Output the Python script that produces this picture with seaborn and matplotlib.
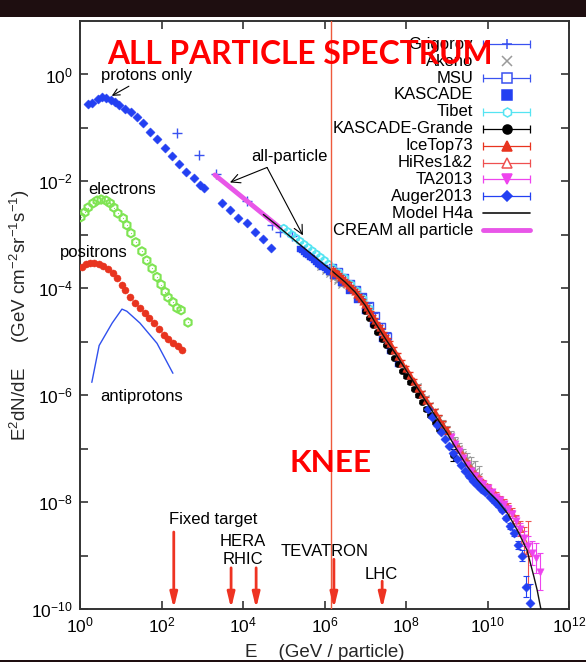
import numpy as np
import matplotlib
matplotlib.use("Agg")
import matplotlib.pyplot as plt
import matplotlib.font_manager as fm
import seaborn as sns
from matplotlib.patches import Rectangle
from matplotlib.ticker import FixedLocator, FixedFormatter, NullFormatter

# ---------------- data: log10(E / GeV), log10(E^2 dN/dE) ----------------
proton_logE = [0.20, 0.30, 0.45, 0.55, 0.65, 0.75, 0.85, 0.95, 1.10, 1.25, 1.40, 1.55, 1.72,
               1.90, 2.08, 2.25, 2.42, 2.60, 2.80, 2.95, 3.05, 3.48, 3.68, 3.88, 4.10, 4.30, 4.49, 4.69]
proton_logF = [-0.56, -0.54, -0.45, -0.43, -0.44, -0.47, -0.51, -0.57, -0.64, -0.71, -0.80, -0.91, -1.07,
               -1.21, -1.37, -1.53, -1.67, -1.83, -1.94, -2.07, -2.13, -2.41, -2.54, -2.69, -2.78, -2.95, -3.08, -3.25]

electron_logE = [0.02, 0.12, 0.20, 0.32, 0.42, 0.52, 0.64, 0.74, 0.83, 0.93, 1.06, 1.15, 1.25,
                 1.37, 1.52, 1.64, 1.77, 1.89, 1.99, 2.09, 2.16, 2.28, 2.38, 2.48, 2.65]
electron_logF = [-2.67, -2.58, -2.49, -2.41, -2.36, -2.34, -2.36, -2.41, -2.49, -2.60, -2.69, -2.82, -2.97,
                 -3.14, -3.31, -3.48, -3.63, -3.79, -3.93, -4.07, -4.17, -4.26, -4.37, -4.41, -4.64]

positron_logE = [0.05, 0.15, 0.25, 0.34, 0.47, 0.56, 0.69, 0.81, 0.91, 1.03, 1.10, 1.23, 1.35,
                 1.47, 1.60, 1.69, 1.82, 1.94, 2.06, 2.16, 2.28, 2.40, 2.50]
positron_logF = [-3.61, -3.55, -3.53, -3.53, -3.55, -3.59, -3.64, -3.72, -3.81, -3.94, -4.04, -4.17, -4.28,
                 -4.37, -4.47, -4.56, -4.65, -4.77, -4.88, -4.95, -5.03, -5.08, -5.16]

antiproton_logE = [0.29, 0.47, 0.79, 1.03, 1.15, 1.47, 1.89, 2.28]
antiproton_logF = [-5.76, -5.07, -4.65, -4.39, -4.43, -4.65, -5.03, -5.59]

grigorov_logE = [2.38, 2.93, 3.34, 4.10, 4.71, 4.91, 5.20]
grigorov_logF = [-1.10, -1.50, -1.87, -2.36, -2.82, -2.95, -3.03]

cream_logE = [3.31, 4.91]
cream_logF = [-1.88, -2.87]

tibet_logE = [5.00, 5.10, 5.20, 5.30, 5.40, 5.50, 5.60, 5.70, 5.80, 5.90, 6.00, 6.10, 6.20,
              6.35, 6.50, 6.65, 6.80, 6.95, 7.10]
tibet_logF = [-2.88, -2.94, -3.00, -3.06, -3.12, -3.18, -3.24, -3.30, -3.36, -3.42, -3.48, -3.55, -3.62,
              -3.71, -3.81, -3.93, -4.05, -4.20, -4.38]

kascade_logE = [5.40, 5.45, 5.50, 5.55, 5.60, 5.65, 5.70, 5.75, 5.80, 5.85, 5.90, 5.95, 6.00, 6.05,
                6.10, 6.20, 6.40, 6.60, 6.80, 7.00, 7.20, 7.40, 7.60, 7.80]
kascade_logF = [-3.26, -3.29, -3.32, -3.35, -3.38, -3.41, -3.44, -3.47, -3.51, -3.54, -3.57, -3.60, -3.63, -3.66,
                -3.70, -3.77, -3.91, -4.05, -4.22, -4.42, -4.67, -4.94, -5.17, -5.42]

msu_logE = [6.20, 6.35, 6.50, 6.65, 6.80, 6.95, 7.10, 7.25, 7.40, 7.55]
msu_logF = [-3.61, -3.69, -3.79, -3.90, -4.01, -4.15, -4.32, -4.51, -4.71, -4.89]
msu_err = [0.03, 0.03, 0.03, 0.04, 0.04, 0.04, 0.05, 0.05, 0.06, 0.07]

akeno_logE = [5.90, 6.00, 6.10, 6.20, 6.30, 6.40, 8.30, 8.40, 8.50, 8.60, 8.70, 8.80, 8.90,
              9.00, 9.10, 9.20, 9.30, 9.40, 9.50, 9.60, 9.70, 9.80]
akeno_logF = [-3.60, -3.67, -3.74, -3.80, -3.87, -3.94, -5.82, -5.95, -6.06, -6.18, -6.30, -6.42, -6.53,
              -6.63, -6.74, -6.86, -6.98, -7.10, -7.20, -7.30, -7.42, -7.52]
akeno_err = [0.02, 0.02, 0.02, 0.02, 0.02, 0.02, 0.03, 0.03, 0.04, 0.04, 0.05, 0.05, 0.06,
             0.06, 0.07, 0.08, 0.09, 0.10, 0.12, 0.15, 0.18, 0.20]

icetop_logE = [6.20, 6.25, 6.30, 6.35, 6.40, 6.45, 6.50, 6.55, 6.60, 6.65, 6.70, 6.75, 6.80, 6.85,
               6.90, 6.95, 7.00, 7.05, 7.10, 7.15, 7.20, 7.25, 7.30, 7.35, 7.40, 7.45, 7.50, 7.55,
               7.60, 7.70, 7.80, 7.90, 8.00, 8.10, 8.20, 8.30, 8.40, 8.50, 8.60, 8.70, 8.80, 8.90, 9.00]
icetop_logF = [-3.66, -3.69, -3.72, -3.76, -3.79, -3.83, -3.86, -3.90, -3.93, -3.97, -4.01, -4.05, -4.10, -4.14,
               -4.19, -4.24, -4.29, -4.35, -4.41, -4.47, -4.54, -4.60, -4.67, -4.73, -4.79, -4.85, -4.91, -4.97,
               -5.03, -5.15, -5.27, -5.39, -5.50, -5.62, -5.74, -5.86, -5.98, -6.09, -6.20, -6.32, -6.44, -6.55, -6.66]
icetop_err = [0.04] * 29 + [0.05] * 7 + [0.06] * 7

grande_logE = [7.00, 7.10, 7.20, 7.30, 7.40, 7.50, 7.60, 7.70, 7.80, 7.90, 8.00, 8.10, 8.20,
               8.30, 8.40, 8.50, 8.60, 8.70, 8.80, 9.15]
grande_logF = [-4.42, -4.55, -4.69, -4.82, -4.94, -5.06, -5.18, -5.30, -5.42, -5.54, -5.64, -5.76, -5.88,
               -6.00, -6.12, -6.26, -6.38, -6.51, -6.64, -7.12]
grande_err = [0.02] * 10 + [0.03] * 9 + [0.12]

hires_logE = [9.20, 9.30, 9.40, 9.50, 9.60, 9.70, 9.80, 9.90, 10.00, 10.10, 10.20, 10.30, 10.40,
              10.50, 10.60, 10.70, 10.80, 10.90, 11.00]
hires_logF = [-6.90, -7.00, -7.13, -7.26, -7.38, -7.48, -7.56, -7.64, -7.72, -7.80, -7.87, -7.95, -8.02,
              -8.10, -8.20, -8.34, -8.50, -8.72, -8.95]
hires_err = [0.04, 0.04, 0.04, 0.04, 0.04, 0.04, 0.05, 0.05, 0.05, 0.05, 0.06, 0.06, 0.07,
             0.08, 0.09, 0.10, 0.14, 0.25, 0.60]

ta_logE = [9.10, 9.20, 9.30, 9.40, 9.50, 9.60, 9.70, 9.80, 9.90, 10.00, 10.10, 10.20, 10.30, 10.40,
           10.50, 10.60, 10.70, 10.80, 10.90, 11.00, 11.10, 11.20, 11.28]
ta_logF = [-6.78, -6.92, -7.05, -7.18, -7.30, -7.42, -7.52, -7.60, -7.67, -7.74, -7.82, -7.90, -7.97, -8.04,
           -8.12, -8.22, -8.35, -8.50, -8.68, -8.82, -8.95, -9.05, -9.30]
ta_err = [0.03, 0.03, 0.03, 0.03, 0.03, 0.03, 0.04, 0.04, 0.04, 0.04, 0.05, 0.05, 0.05, 0.06,
          0.07, 0.08, 0.09, 0.11, 0.14, 0.18, 0.22, 0.28, 0.35]

auger_logE = [8.55, 8.65, 8.75, 8.85, 8.95, 9.05, 9.15, 9.25, 9.35, 9.45, 9.55, 9.65, 9.75, 9.85, 9.95,
              10.05, 10.15, 10.25, 10.35, 10.45, 10.55, 10.65, 10.75, 10.85, 10.95, 11.05]
auger_logF = [-6.25, -6.40, -6.55, -6.68, -6.82, -6.95, -7.08, -7.20, -7.30, -7.42, -7.52, -7.60, -7.68, -7.75, -7.82,
              -7.90, -7.98, -8.06, -8.15, -8.30, -8.45, -8.58, -8.80, -9.00, -9.58, -9.88]
auger_err = [0.02] * 16 + [0.03, 0.03, 0.04, 0.04, 0.05, 0.06, 0.08, 0.10, 0.20, 0.35]

h4a_logE = [4.50, 4.83, 5.00, 5.47, 6.00, 6.13, 6.25, 6.50, 6.75, 7.00, 7.25, 7.50, 7.75, 8.00, 8.25,
            8.50, 8.75, 9.00, 9.25, 9.50, 9.75, 10.00, 10.25, 10.50, 10.75, 10.97, 11.14, 11.22, 11.31]
h4a_logF = [-2.62, -2.82, -2.93, -3.23, -3.56, -3.64, -3.72, -3.88, -4.07, -4.32, -4.65, -4.95, -5.23, -5.53, -5.83,
            -6.13, -6.42, -6.70, -7.02, -7.33, -7.58, -7.79, -7.98, -8.22, -8.55, -8.90, -9.40, -9.65, -10.00]

knee_E = 1.45e6

# accelerator energies (GeV) and arrow tops (log10 flux)
acc_E = [2.0e2, 5.1e3, 2.1e4, 1.7e6, 2.6e7]
acc_top = [-8.56, -9.23, -9.23, -9.07, -9.48]

# ---------------- styling ----------------
sns.set_style("ticks")
plt.rcParams['font.family'] = ['Liberation Sans', 'DejaVu Sans']
plt.rcParams['mathtext.fontset'] = 'custom'
plt.rcParams['mathtext.rm'] = 'Liberation Sans'
plt.rcParams['mathtext.it'] = 'Liberation Sans:italic'
plt.rcParams['mathtext.bf'] = 'Liberation Sans:bold'

W, H = 586, 662
fig = plt.figure(figsize=(W / 100, H / 100), dpi=100)
fig.patch.set_facecolor('white')
AX_L, AX_R, AX_T, AX_B = 80, 569, 21, 609
ax = fig.add_axes([AX_L / W, 1 - AX_B / H, (AX_R - AX_L) / W, (AX_B - AX_T) / H])
ax.set_facecolor('white')
ax.set_xscale('log')
ax.set_yscale('log')
ax.set_xlim(1, 1e12)
ax.set_ylim(1e-10, 10)

# dark photo strips at top / bottom of slide
fig.patches.append(Rectangle((0, 1 - 17 / H), 1, 17 / H, transform=fig.transFigure,
                             facecolor='#1e0e10', edgecolor='none', zorder=0))
fig.patches.append(Rectangle((0, 0), 1, 2.5 / H, transform=fig.transFigure,
                             facecolor='#1e0e10', edgecolor='none', zorder=0))


def P(a):
    return 10 ** np.asarray(a, dtype=float)


def errbars(lx, lf, le, color, lw=0.8, cap=2, z=2):
    F = P(lf)
    e = np.asarray(le)
    ax.errorbar(P(lx), F, yerr=[F - F * 10 ** (-e), F * 10 ** e - F], fmt='none',
                ecolor=color, elinewidth=lw, capsize=cap, capthick=lw, zorder=z)


BLUE = '#2340f2'
BLUE2 = '#3a52f0'
CYAN = '#55e4f2'
RED = '#e8341f'
RED2 = '#ef5050'
MAG = '#ee44ee'
GREEN = '#7fe453'
GRAY = '#9a9a9a'

# low-energy components
sns.scatterplot(x=P(proton_logE), y=P(proton_logF), ax=ax, marker='D', s=22, color=BLUE,
                edgecolor=BLUE, linewidth=0.3, zorder=3)
sns.scatterplot(x=P(electron_logE), y=P(electron_logF), ax=ax, marker='h', s=36, color=GREEN,
                facecolor='none', edgecolor=GREEN, linewidth=1.5, zorder=3)
sns.scatterplot(x=P(electron_logE), y=P(electron_logF), ax=ax, marker='.', s=3, color=GREEN,
                edgecolor=GREEN, linewidth=0, zorder=3)
sns.scatterplot(x=P(positron_logE), y=P(positron_logF), ax=ax, marker='o', s=26, color=RED,
                edgecolor=RED, linewidth=0.3, zorder=3)
sns.lineplot(x=P(antiproton_logE), y=P(antiproton_logF), ax=ax, color='#3050ee', lw=1.0,
             sort=False, estimator=None, zorder=3)

# all-particle measurements
errbars(akeno_logE, akeno_logF, akeno_err, GRAY)
errbars(msu_logE, msu_logF, msu_err, BLUE2)
errbars(grande_logE, grande_logF, grande_err, 'black')
errbars(hires_logE, hires_logF, hires_err, RED2)
errbars(ta_logE, ta_logF, ta_err, MAG)
errbars(auger_logE, auger_logF, auger_err, BLUE)

sns.scatterplot(x=P(grigorov_logE), y=P(grigorov_logF), ax=ax, marker='+', s=45, color=BLUE2,
                linewidth=1.0, zorder=3)
sns.lineplot(x=P(cream_logE), y=P(cream_logF), ax=ax, color='#e856e8', lw=3.5,
             sort=False, estimator=None, zorder=3)
sns.scatterplot(x=P(akeno_logE), y=P(akeno_logF), ax=ax, marker='x', s=20, color=GRAY,
                linewidth=0.9, zorder=3)
sns.scatterplot(x=P(msu_logE), y=P(msu_logF), ax=ax, marker='s', s=22, color=BLUE2,
                facecolor='none', edgecolor=BLUE2, linewidth=1.0, zorder=3)
sns.scatterplot(x=P(tibet_logE), y=P(tibet_logF), ax=ax, marker='h', s=28, color=CYAN,
                facecolor='none', edgecolor=CYAN, linewidth=1.3, zorder=3)
sns.scatterplot(x=P(kascade_logE), y=P(kascade_logF), ax=ax, marker='s', s=20, color=BLUE,
                edgecolor=BLUE, linewidth=0.3, zorder=3)
sns.scatterplot(x=P(grande_logE), y=P(grande_logF), ax=ax, marker='o', s=22, color='black',
                edgecolor='black', linewidth=0.3, zorder=3)
errbars(icetop_logE, icetop_logF, icetop_err, RED, lw=1.0, z=3.1)
sns.scatterplot(x=P(icetop_logE), y=P(icetop_logF), ax=ax, marker='^', s=30, color=RED,
                edgecolor=RED, linewidth=0.3, zorder=3.2)
sns.scatterplot(x=P(hires_logE), y=P(hires_logF), ax=ax, marker='^', s=26, color=RED2,
                facecolor='none', edgecolor=RED2, linewidth=1.0, zorder=3)
sns.scatterplot(x=P(ta_logE), y=P(ta_logF), ax=ax, marker='v', s=28, color=MAG,
                edgecolor=MAG, linewidth=0.3, zorder=3)
sns.scatterplot(x=P(auger_logE), y=P(auger_logF), ax=ax, marker='D', s=22, color=BLUE,
                edgecolor=BLUE, linewidth=0.3, zorder=3.3)
sns.lineplot(x=P(h4a_logE), y=P(h4a_logF), ax=ax, color='#111111', lw=1.0,
             sort=False, estimator=None, zorder=4)

# knee line
ax.axvline(knee_E, color='#ee5a3c', lw=1.0, zorder=5)

# ---------------- axes cosmetics ----------------
for s in ax.spines.values():
    s.set_color('#333333')
    s.set_linewidth(1.4)
ax.xaxis.set_major_locator(FixedLocator([10.0 ** k for k in range(0, 13, 2)]))
ax.xaxis.set_major_formatter(FixedFormatter([r'$10^{%d}$' % k for k in range(0, 13, 2)]))
ax.xaxis.set_minor_locator(FixedLocator([]))
ax.yaxis.set_major_locator(FixedLocator([10.0 ** k for k in range(-10, 1, 2)]))
ax.yaxis.set_major_formatter(FixedFormatter([r'$10^{%d}$' % k for k in range(-10, 1, 2)]))
ax.yaxis.set_minor_locator(FixedLocator([10.0 ** k for k in range(-9, 1, 2)]))
ax.yaxis.set_minor_formatter(NullFormatter())
ax.tick_params(which='both', direction='in', top=True, right=True, length=6, width=1.2,
               color='#333333', labelsize=12.5, labelcolor='black', pad=5)
ax.set_xlabel('E    (GeV / particle)', fontsize=13.5)
ax.set_ylabel(r'E$^2$dN/dE     (GeV cm$^{-2}$sr$^{-1}$s$^{-1}$)', fontsize=13.5)
ax.xaxis.set_label_coords(0.5, -0.060)
ax.yaxis.set_label_coords(-0.098, 0.5)

# ---------------- annotations ----------------
TF = dict(fontsize=12, color='black', zorder=6)
ax.text(10 ** 1.63, 10 ** -0.02, 'protons only', ha='center', va='center', **TF)
ax.annotate('', xy=(10 ** 0.78, 10 ** -0.40), xytext=(10 ** 1.20, 10 ** -0.22),
            arrowprops=dict(arrowstyle='->', color='black', lw=0.8, mutation_scale=12,
                            shrinkA=0, shrinkB=0))
ax.text(10 ** 1.03, 10 ** -2.15, 'electrons', ha='center', va='center', **TF)
ax.text(10 ** 0.33, 10 ** -3.33, 'positrons', ha='center', va='center', **TF)
ax.text(10 ** 1.51, 10 ** -6.02, 'antiprotons', ha='center', va='center', **TF)
ax.text(10 ** 5.14, 10 ** -1.53, 'all-particle', ha='center', va='center', **TF)
for tip in [(10 ** 3.68, 10 ** -2.02), (10 ** 5.47, 10 ** -3.01)]:
    ax.annotate('', xy=tip, xytext=(10 ** 4.59, 10 ** -1.74),
                arrowprops=dict(arrowstyle='->', color='black', lw=0.8, mutation_scale=16,
                                shrinkA=0, shrinkB=0))

for e, top in zip(acc_E, acc_top):
    ax.annotate('', xy=(e, 10 ** -9.99), xytext=(e, 10 ** top),
                arrowprops=dict(arrowstyle='-|>,head_width=0.22,head_length=0.9',
                                color='#ee3322', lw=2.0, shrinkA=0, shrinkB=0), zorder=6)
ax.text(10 ** 3.28, 10 ** -8.32, 'Fixed target', ha='center', va='center', **TF)
ax.text(10 ** 4.0, 10 ** -8.73, 'HERA', ha='center', va='center', **TF)
ax.text(10 ** 4.0, 10 ** -9.07, 'RHIC', ha='center', va='center', **TF)
ax.text(10 ** 6.01, 10 ** -8.93, 'TEVATRON', ha='center', va='center', **TF)
ax.text(10 ** 7.39, 10 ** -9.35, 'LHC', ha='center', va='center', **TF)


# ---------------- legend (gnuplot style: right-aligned text, handle on right) ----------------
def fx(px):
    return (px - AX_L) / (AX_R - AX_L)


def fy(py):
    return (AX_B - py) / (AX_B - AX_T)


legend_rows = [
    ('Grigorov', BLUE2, '+', BLUE2, True),
    ('Akeno', GRAY, 'x', GRAY, False),
    ('MSU', BLUE2, 's', 'white', True),
    ('KASCADE', BLUE, 's', BLUE, False),
    ('Tibet', CYAN, 'h', 'white', True),
    ('KASCADE-Grande', 'black', 'o', 'black', True),
    ('IceTop73', RED, '^', RED, True),
    ('HiRes1&2', RED2, '^', 'white', True),
    ('TA2013', MAG, 'v', MAG, True),
    ('Auger2013', BLUE, 'D', BLUE, True),
    ('Model H4a', '#111111', None, None, True),
    ('CREAM all particle', '#e856e8', None, None, True),
]
tr = ax.transAxes
for i, (lab, col, mk, mfc, has_line) in enumerate(legend_rows):
    py = 44.3 + i * 16.9
    ax.text(fx(473), fy(py), lab, transform=tr, ha='right', va='center', fontsize=12,
            color='black', zorder=7, clip_on=False)
    x0, x1, xm = fx(483), fx(530), fx(506.5)
    if mk is None:
        lw = 3.5 if lab.startswith('CREAM') else 1.2
        ax.plot([x0, x1], [fy(py), fy(py)], transform=tr, color=col, lw=lw, clip_on=False, zorder=7)
        continue
    if has_line:
        ax.plot([x0, x1], [fy(py), fy(py)], transform=tr, color=col, lw=0.9, clip_on=False, zorder=7)
        ax.plot([x0, x1], [fy(py), fy(py)], transform=tr, color=col, lw=0, marker='|', ms=6,
                mew=0.9, clip_on=False, zorder=7)
    ax.plot([xm], [fy(py)], transform=tr, color=col, marker=mk, ms=6.5 if mk != 'D' else 5,
            mfc=mfc, mec=col, mew=1.1, lw=0, clip_on=False, zorder=8)

# ---------------- slide overlays ----------------
tfp = fm.FontProperties(family=['Lato', 'Liberation Sans'], weight='bold')
title = fig.text(300 / W, 1 - 64 / H, 'ALL PARTICLE SPECTRUM', ha='center', va='baseline',
                 fontproperties=tfp, color='#ff0000', zorder=10)
title.set_fontsize(26)
knee = fig.text(331 / W, 1 - 472 / H, 'KNEE', ha='center', va='baseline',
                fontproperties=tfp.copy(), color='#ff0000', zorder=10)
knee.set_fontsize(24)
fig.canvas.draw()
rend = fig.canvas.get_renderer()
for t, target in [(title, 386.0), (knee, 82.0)]:
    wpx = t.get_window_extent(rend).width
    t.set_fontsize(t.get_fontsize() * target / wpx)

fig.savefig('out.png', dpi=100, facecolor='white')
